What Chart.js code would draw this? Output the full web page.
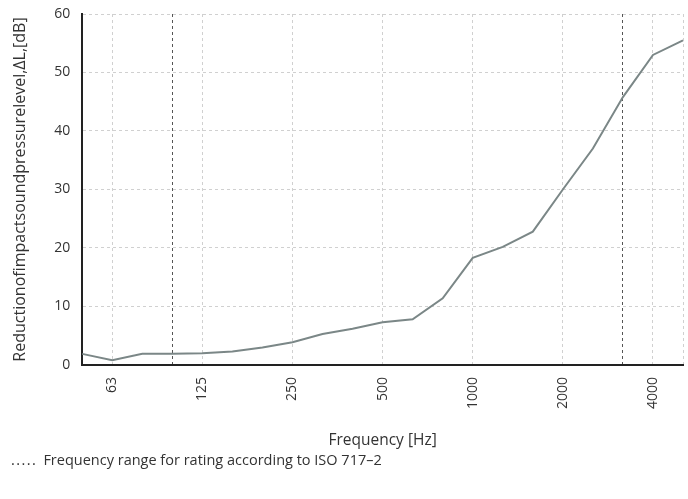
<!DOCTYPE html>
<html><head><meta charset="utf-8">
<script src="https://cdn.jsdelivr.net/npm/chart.js@4/dist/chart.umd.min.js"></script>
<style>html,body{margin:0;padding:0;background:#fff}#wrap{width:688px;height:499px}</style>
</head><body><div id="wrap"><canvas id="c"></canvas></div>
<script>
const frequencies = ['50','63','80','100','125','160','200','250','315','400','500','630','800','1000','1250','1600','2000','2500','3150','4000','5000'];
const reduction = [1.9,0.8,1.9,1.9,2.0,2.3,3.0,3.9,5.3,6.2,7.3,7.8,11.4,18.3,20.2,22.8,30.0,37.0,45.8,53.0,55.5];
const shownTicks = ['63','125','250','500','1000','2000','4000'];
const ratingRange = ['100','3150'];
const yTitle = 'Reductionofimpactsoundpressurelevel,ΔL,[dB]';
const xTitle = 'Frequency [Hz]';
const note = '.\u200A.\u200A.\u200A.\u200A.  Frequency range for rating according to ISO 717–2';

const FONT = '"Open Sans"';
const txt = '#333';
new Chart(document.getElementById('c'), {
  type: 'line',
  data: { labels: frequencies, datasets: [{ data: reduction, borderColor: '#7b8787', borderWidth: 2, pointRadius: 0, tension: 0, fill: false }] },
  options: {
    responsive: true, maintainAspectRatio: false, animation: false,
    layout: { padding: { left: 11, right: 5, top: 14, bottom: 29 } },
    plugins: {
      legend: { display: false }, tooltip: { enabled: false },
      subtitle: { display: true, text: note, position: 'bottom', align: 'start', color: txt, font: { family: FONT, size: 14.5 }, padding: { top: 3, bottom: 0 } }
    },
    scales: {
      x: {
        offset: false,
        afterFit: s => { s.paddingLeft = 0; s.paddingRight = 0; },
        grid: {
          color: c => { const l = frequencies[c.index]; if (ratingRange.includes(l)) return '#555'; if (shownTicks.includes(l) || c.index === frequencies.length - 1) return '#d0d0d0'; return 'rgba(0,0,0,0)'; },
          lineWidth: 1, drawTicks: false
        },
        border: { display: true, color: '#222', width: 2, dash: c => (c.index === undefined ? [] : [3, 3]) },
        ticks: { autoSkip: false, maxRotation: 90, minRotation: 90, padding: 12, color: txt, font: { family: FONT, size: 14 },
          callback: function (v, i) { const l = frequencies[i]; return shownTicks.includes(l) ? l : ''; } },
        title: { display: true, text: xTitle, color: txt, font: { family: FONT, size: 15.5 }, padding: { top: 10, bottom: 0 } }
      },
      y: {
        min: 0, max: 60,
        afterFit: s => { s.paddingTop = 0; s.paddingBottom = 0; },
        grid: { color: '#d0d0d0', lineWidth: 1, drawTicks: false },
        border: { display: true, color: '#222', width: 2, dash: c => (c.index === undefined ? [] : [3, 3]) },
        ticks: { stepSize: 10, padding: 12, color: txt, font: { family: FONT, size: 14 } },
        title: { display: true, text: yTitle, color: txt, font: { family: FONT, size: 16 }, padding: { top: 0, bottom: 12 } }
      }
    }
  }
});
</script></body></html>
